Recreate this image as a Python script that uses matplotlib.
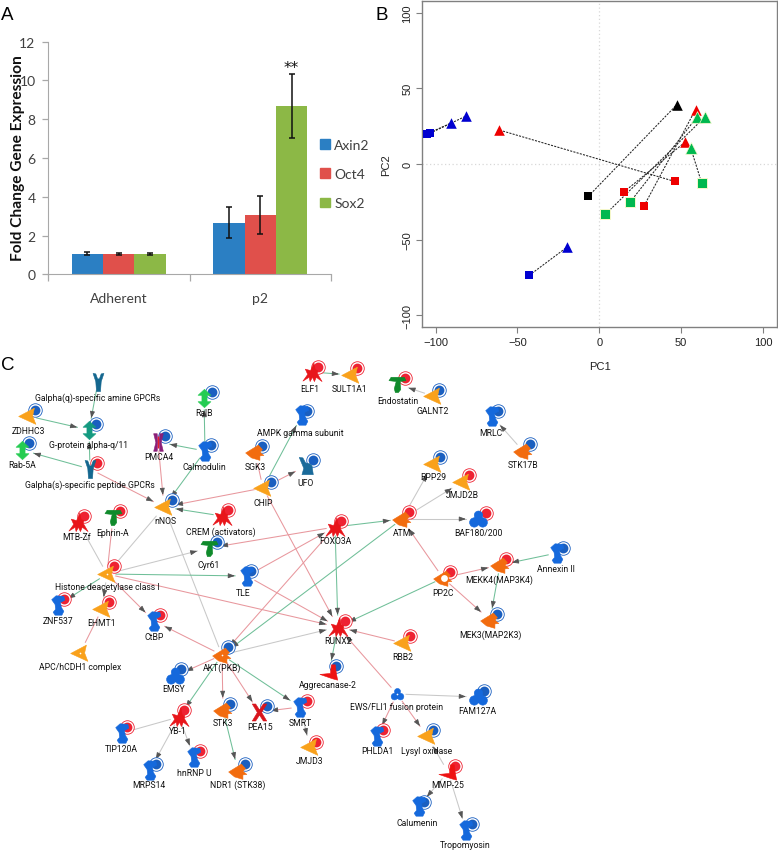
import numpy as np
import matplotlib
matplotlib.use("Agg")
import matplotlib.pyplot as plt
from matplotlib.path import Path
from matplotlib.patches import Patch

W, H = 778, 853

# panel A
groups = ["Adherent", "p2"]
genes = ["Axin2", "Oct4", "Sox2"]
axin2 = [1.07, 2.67]
oct4 = [1.03, 3.05]
sox2 = [1.03, 8.68]
axin2_err = [0.07, 0.80]
oct4_err = [0.06, 0.98]
sox2_err = [0.06, 1.64]

# panel B
tri_blue_x, tri_blue_y = [-90.4, -81.7, -19.5], [27.1, 31.5, -54.8]
tri_red_x, tri_red_y = [-61.3, 58.8, 52.5], [22.5, 35.9, 14.5]
tri_black_x, tri_black_y = [47.4], [39.2]
tri_green_x, tri_green_y = [59.9, 64.5, 55.8], [31.3, 31.0, 10.8]
sq_blue_x, sq_blue_y = [-105.5, -103.4, -42.8], [19.8, 20.3, -73.6]
sq_red_x, sq_red_y = [46.0, 15.0, 27.3], [-11.5, -18.5, -27.8]
sq_black_x, sq_black_y = [-6.7], [-21.4]
sq_green_x, sq_green_y = [62.5, 18.9, 3.7], [-12.3, -25.1, -33.3]
# square -> triangle
pair_x0 = [-105.5, -103.4, -42.8, 46.0, 15.0, 27.3, -6.7, 62.5, 18.9, 3.7]
pair_y0 = [19.8, 20.3, -73.6, -11.5, -18.5, -27.8, -21.4, -12.3, -25.1, -33.3]
pair_x1 = [-90.4, -81.7, -19.5, -61.3, 52.5, 58.8, 47.4, 55.8, 59.9, 64.5]
pair_y1 = [27.1, 31.5, -54.8, 22.5, 14.5, 35.9, 39.2, 10.8, 31.3, 31.0]

# panel C, all read in image pixels
node_name = ["Galpha(q)-specific amine GPCRs", "ZDHHC3", "G-protein alpha-q/11", "Rab-5A",
             "Galpha(s)-specific peptide GPCRs", "RalB", "PMCA4", "Calmodulin", "SGK3", "CHIP",
             "nNOS", "CREM (activators)", "MTB-Zf", "Ephrin-A", "Cyr61",
             "Histone deacetylase class I", "TLE", "AMPK gamma subunit", "UFO", "ELF1",
             "SULT1A1", "Endostatin", "GALNT2", "MRLC", "STK17B",
             "RPP29", "JMJD2B", "BAF180/200", "ATM", "FOXO3A",
             "Annexin II", "MEKK4(MAP3K4)", "PP2C", "MEK3(MAP2K3)", "RBB2",
             "RUNX2", "Aggrecanase-2", "EWS/FLI1 fusion protein", "FAM127A", "PHLDA1",
             "Lysyl oxidase", "MMP-25", "Calumenin", "Tropomyosin", "JMJD3",
             "SMRT", "PEA15", "STK3", "NDR1 (STK38)", "YB-1",
             "TIP120A", "MRPS14", "hnRNP U", "EMSY", "AKT(PKB)",
             "CtBP", "EHMT1", "ZNF537", "APC/hCDH1 complex"]
node_x = [98, 28, 89, 22, 90, 204, 158, 205, 255, 263,
          164, 222, 78, 113, 209, 107, 247, 302, 306, 312,
          351, 397, 433, 492, 523, 433, 462, 478, 402, 335,
          557, 500, 443, 490, 403, 338, 329, 397, 478, 377,
          427, 448, 419, 466, 310, 300, 259, 223, 238, 179,
          122, 150, 194, 175, 222, 154, 102, 58, 80]
node_y = [383, 417, 431, 451, 470, 399, 443, 452, 453, 489,
          508, 517, 523, 518, 549, 575, 577, 416, 467, 373,
          376, 385, 397, 417, 452, 465, 483, 520, 520, 528,
          554, 566, 579, 621, 644, 628, 673, 695, 698, 737,
          737, 773, 807, 831, 748, 708, 713, 711, 772, 718,
          734, 771, 758, 677, 656, 622, 610, 606, 654]
node_kind = ["receptor", "enzyme", "gprotein", "gtpase", "receptor", "gtpase", "channel", "binding", "kinase", "enzyme",
             "enzyme", "tf", "tf", "ligand", "ligand", "enzyme", "binding", "binding", "receptor2", "tf",
             "enzyme", "ligand", "enzyme", "binding", "kinase", "enzyme", "enzyme", "complex", "kinase", "tf",
             "binding", "kinase", "kinase", "kinase", "enzyme", "tf", "protease", "complex", "complex", "binding",
             "enzyme", "protease", "binding", "binding", "enzyme", "binding", "cross", "kinase", "kinase", "tf",
             "binding", "binding", "binding", "complex", "kinase", "binding", "enzyme", "binding", "enzyme"]
node_dot = ["", "b", "b", "b", "r", "b", "b", "b", "b", "b",
            "b", "r", "r", "r", "b", "r", "b", "b", "b", "r",
            "r", "r", "b", "b", "b", "b", "r", "r", "r", "r",
            "b", "r", "r", "b", "r", "r", "b", "", "b", "r",
            "b", "r", "b", "b", "r", "r", "b", "b", "b", "r",
            "r", "b", "r", "b", "b", "r", "r", "r", ""]
dot_x = [0, 35, 96, 29, 97, 212, 165, 211, 262, 271,
         172, 228, 84, 120, 217, 114, 251, 307, 313, 318,
         357, 405, 439, 498, 530, 440, 469, 486, 409, 341,
         563, 506, 450, 497, 410, 345, 336, 0, 484, 383,
         433, 455, 424, 472, 316, 307, 267, 230, 245, 184,
         127, 156, 200, 181, 228, 160, 109, 64, 0]
dot_y = [0, 411, 425, 444, 464, 393, 437, 446, 447, 483,
         501, 511, 517, 512, 543, 567, 572, 412, 461, 368,
         369, 379, 391, 412, 445, 458, 476, 514, 513, 522,
         549, 560, 573, 615, 637, 622, 667, 0, 692, 731,
         731, 767, 803, 825, 743, 702, 707, 705, 765, 711,
         728, 765, 752, 670, 648, 616, 603, 600, 0]
label_x = [98, 28, 89, 22, 90, 204, 159, 204, 255, 263,
           165, 221, 77, 113, 209, 107, 243, 300, 306, 310,
           350, 398, 433, 491, 523, 433, 462, 478, 402, 335,
           556, 499, 443, 490, 403, 338, 328, 397, 477, 377,
           427, 448, 417, 465, 310, 300, 260, 223, 238, 178,
           121, 149, 194, 174, 222, 154, 102, 58, 80]
label_y = [398, 431, 446, 465, 485, 414, 457, 467, 467, 504,
           521, 532, 538, 533, 565, 587, 594, 434, 484, 389,
           390, 401, 411, 433, 465, 478, 496, 533, 533, 542,
           570, 580, 593, 635, 657, 642, 686, 708, 712, 752,
           751, 786, 824, 846, 762, 724, 727, 724, 785, 732,
           750, 786, 774, 690, 668, 637, 623, 621, 668]

red_edges = [("Galpha(s)-specific peptide GPCRs", "nNOS"), ("PMCA4", "nNOS"), ("CHIP", "nNOS"),
             ("CHIP", "SGK3"), ("CHIP", "UFO"), ("CHIP", "RUNX2"),
             ("Histone deacetylase class I", "Ephrin-A"), ("Histone deacetylase class I", "RUNX2"),
             ("Histone deacetylase class I", "CtBP"), ("EHMT1", "APC/hCDH1 complex"),
             ("FOXO3A", "Cyr61"), ("TLE", "FOXO3A"), ("TLE", "RUNX2"), ("FOXO3A", "AKT(PKB)"),
             ("PP2C", "ATM"), ("PP2C", "MEKK4(MAP3K4)"), ("PP2C", "MEK3(MAP2K3)"),
             ("RBB2", "RUNX2"), ("EWS/FLI1 fusion protein", "RUNX2"), ("EWS/FLI1 fusion protein", "PHLDA1"),
             ("EWS/FLI1 fusion protein", "Lysyl oxidase"), ("SMRT", "PEA15"), ("AKT(PKB)", "PEA15"),
             ("AKT(PKB)", "STK3"), ("AKT(PKB)", "EMSY"), ("AKT(PKB)", "CtBP")]
green_edges = [("Galpha(q)-specific amine GPCRs", "G-protein alpha-q/11"), ("ZDHHC3", "G-protein alpha-q/11"),
               ("Galpha(s)-specific peptide GPCRs", "G-protein alpha-q/11"), ("Galpha(s)-specific peptide GPCRs", "Rab-5A"),
               ("Calmodulin", "RalB"), ("Calmodulin", "PMCA4"), ("Calmodulin", "nNOS"), ("CREM (activators)", "nNOS"),
               ("CHIP", "AMPK gamma subunit"), ("Histone deacetylase class I", "TLE"), ("Histone deacetylase class I", "ZNF537"),
               ("FOXO3A", "ATM"), ("FOXO3A", "RUNX2"), ("ATM", "AKT(PKB)"), ("PP2C", "RUNX2"),
               ("MEKK4(MAP3K4)", "MEK3(MAP2K3)"), ("Annexin II", "MEKK4(MAP3K4)"), ("ELF1", "SULT1A1"),
               ("RUNX2", "Aggrecanase-2"), ("AKT(PKB)", "SMRT"), ("STK3", "NDR1 (STK38)"), ("AKT(PKB)", "YB-1")]
gray_edges = [("AKT(PKB)", "nNOS"), ("Histone deacetylase class I", "nNOS"), ("Histone deacetylase class I", "MTB-Zf"),
              ("Histone deacetylase class I", "Cyr61"), ("Histone deacetylase class I", "EHMT1"),
              ("ATM", "RPP29"), ("ATM", "JMJD2B"), ("ATM", "BAF180/200"), ("STK17B", "MRLC"),
              ("GALNT2", "Endostatin"), ("AKT(PKB)", "RUNX2"), ("EWS/FLI1 fusion protein", "FAM127A"),
              ("MMP-25", "Lysyl oxidase"), ("MMP-25", "Calumenin"), ("MMP-25", "Tropomyosin"),
              ("SMRT", "JMJD3"), ("YB-1", "TIP120A"), ("YB-1", "MRPS14"), ("YB-1", "hnRNP U")]
no_head = [("YB-1", "TIP120A"), ("Histone deacetylase class I", "Ephrin-A"), ("Histone deacetylase class I", "MTB-Zf"),
           ("EHMT1", "APC/hCDH1 complex"), ("CHIP", "SGK3"), ("Histone deacetylase class I", "nNOS"), ("AKT(PKB)", "nNOS")]
small_nodes = ["EWS/FLI1 fusion protein"]
white_spot_nodes = ["EWS/FLI1 fusion protein", "APC/hCDH1 complex", "Histone deacetylase class I", "AKT(PKB)"]


def circle_at(cx, cy, r):
    p = Path.unit_circle()
    return Path(p.vertices * r + [cx, cy], p.codes)


shapes = {
    "enzyme": Path([(-1, 0), (0.6, 0.85), (0.42, 0.05), (0.75, -0.8), (-1, 0)], closed=True),
    "kinase": Path([(-1, -0.05), (0.3, 0.75), (0.7, 0.3), (0.45, 0.02), (0.85, -0.3), (0.45, -0.35),
                    (0.45, -0.8), (-0.4, -0.55), (-1, -0.05)], closed=True),
    "protease": Path([(-1, -0.2), (0.1, -0.1), (0.2, 0.8), (0.6, 0.8), (0.7, 0.0), (0.85, -0.8),
                      (0.3, -0.65), (-1, -0.2)], closed=True),
    "binding": Path([(-0.25, 1), (0.55, 0.95), (0.65, 0.55), (0.2, 0.3), (0.3, -0.2), (0.55, -0.6),
                     (0.35, -1), (-0.35, -1), (-0.55, -0.7), (-0.3, -0.4), (-0.35, 0.1), (-0.7, 0.6),
                     (-0.25, 1)], closed=True),
    "tf": Path([(0.15, 1), (0.28, 0.3), (0.55, 0.2), (0.5, -0.1), (1, -0.95), (0.4, -0.5), (0.2, -0.95),
                (0, -0.5), (-0.25, -0.95), (-0.35, -0.5), (-1, -0.9), (-0.5, -0.2), (-0.75, 0.35),
                (-0.2, 0.2), (0.15, 1)], closed=True),
    "ligand": Path([(-1, 0.45), (-0.75, 0.85), (0.8, 0.85), (1, 0.45), (0.3, 0.35), (0.38, -0.6),
                    (0.1, -0.95), (-0.25, -0.95), (-0.38, -0.5), (-0.15, 0.35), (-1, 0.45)], closed=True),
    "receptor": Path([(-0.6, 1), (-0.3, 0.95), (-0.1, 0.4), (0.1, 0.4), (0.3, 0.95), (0.6, 1), (0.3, 0.1),
                      (0.22, -1), (-0.22, -1), (-0.3, 0.1), (-0.6, 1)], closed=True),
    "receptor2": Path([(-0.8, 1), (-0.4, 0.95), (-0.1, 0.4), (0.35, 0.3), (0.6, 0.1), (0.75, -0.9),
                       (-0.5, -0.9), (-0.3, -0.2), (-0.8, 1)], closed=True),
    "gtpase": Path([(0, 1), (0.7, 0.35), (0.28, 0.35), (0.28, -0.35), (0.7, -0.35), (0, -1), (-0.7, -0.35),
                    (-0.28, -0.35), (-0.28, 0.35), (-0.7, 0.35), (0, 1)], closed=True),
    "channel": Path([(-0.55, 1), (-0.15, 1), (-0.08, 0), (-0.15, -1), (-0.55, -1), (-0.3, 0), (-0.55, 1)],
                    closed=True),
    "cross": Path([(-0.85, 1), (-0.45, 1), (0, 0.3), (0.45, 1), (0.85, 1), (0.25, 0), (0.85, -1), (0.45, -1),
                   (0, -0.3), (-0.45, -1), (-0.85, -1), (-0.25, 0), (-0.85, 1)], closed=True),
    "complex": Path.make_compound_path(circle_at(0, 0.5, 0.5), circle_at(-0.5, -0.35, 0.55),
                                       circle_at(0.5, -0.35, 0.55)),
}
shapes["gprotein"] = shapes["gtpase"]
channel_right = Path([(0.55, 1), (0.15, 1), (0.08, 0), (0.15, -1), (0.55, -1), (0.3, 0), (0.55, 1)], closed=True)
shapes["channel"] = Path.make_compound_path(shapes["channel"], channel_right)

kind_color = {"enzyme": "#f9a11b", "kinase": "#f26c0f", "protease": "#ee1212", "binding": "#1569dc",
              "tf": "#e8151a", "ligand": "#0f8a2b", "receptor": "#14678f", "receptor2": "#1a6a9a",
              "gtpase": "#25cc52", "gprotein": "#149a80", "channel": "#8a1f78", "cross": "#d8141c",
              "complex": "#1569dc"}
kind_size = {"enzyme": 200, "kinase": 200, "protease": 190, "binding": 195, "tf": 190, "ligand": 150,
             "receptor": 170, "receptor2": 170, "gtpase": 175, "gprotein": 175, "channel": 160,
             "cross": 150, "complex": 165}
edge_color = {"red": "#e8979d", "green": "#6fbf98", "gray": "#c8c8c8"}

fig = plt.figure(figsize=(W / 100, H / 100), dpi=100, facecolor="white")


def px_axes(left, top, right, bottom):
    return fig.add_axes([left / W, 1 - bottom / H, (right - left) / W, (bottom - top) / H])


# A ---------------------------------------------------------------
ax = px_axes(48, 42.7, 331, 275.3)
bar_w = 0.2215
centers = np.array([0.5, 1.5])
bar_colors = ["#2b7fc3", "#e0504b", "#8cb846"]
for i, (vals, errs) in enumerate([(axin2, axin2_err), (oct4, oct4_err), (sox2, sox2_err)]):
    pos = centers + (i - 1) * bar_w
    ax.bar(pos, vals, bar_w, color=bar_colors[i], linewidth=0, zorder=2)
    ax.errorbar(pos, vals, yerr=errs, fmt="none", ecolor="#111111", elinewidth=1.1, capsize=2.5,
                capthick=1.1, zorder=3)
ax.text(centers[1] + bar_w, 10.3, "**", ha="center", va="bottom", fontsize=11, family="DejaVu Sans", color="#111111")
ax.set_xlim(0, 2)
ax.set_ylim(0, 12)
ax.set_yticks(range(0, 13, 2))
ax.set_xticks([0, 1, 2])
ax.set_xticklabels([])
ax.set_xticks(centers, groups, minor=True)
ax.tick_params(axis="x", which="minor", length=0, pad=13, labelsize=10, labelcolor="#404040", labelfontfamily="Lato")
ax.tick_params(axis="x", which="major", length=5, color="#a8a8a8", width=0.9)
ax.tick_params(axis="y", length=4, color="#a8a8a8", width=0.9, pad=5, labelsize=10, labelcolor="#404040",
               labelfontfamily="Lato")
for side in ["top", "right"]:
    ax.spines[side].set_visible(False)
for side in ["left", "bottom"]:
    ax.spines[side].set_color("#a8a8a8")
fig.text(18 / W, 1 - 158 / H, "Fold Change Gene Expression", rotation=90, ha="center", va="center",
         fontsize=11.2, fontweight="bold", family="Lato", color="#111111")
handles = [Patch(color=c, label=g) for c, g in zip(bar_colors, genes)]
fig.legend(handles=handles, loc="center left", bbox_to_anchor=(320 / W, 1 - 175 / H), frameon=False,
           handlelength=0.72, handleheight=0.72, handletextpad=0.3, labelspacing=1.25, borderpad=0,
           borderaxespad=0, prop={"family": "Lato", "size": 10}, labelcolor="#404040")

# B ---------------------------------------------------------------
bx = px_axes(422.3, 1.5, 776.7, 328)
bx.axhline(0, color="#d8d8d8", lw=0.9, ls=(0, (1, 2)), zorder=1)
bx.axvline(0, color="#d8d8d8", lw=0.9, ls=(0, (1, 2)), zorder=1)
for x0, y0, x1, y1 in zip(pair_x0, pair_y0, pair_x1, pair_y1):
    bx.plot([x0, x1], [y0, y1], color="#222222", lw=0.75, ls=(0, (2, 1.2)), zorder=2)
bx.scatter(sq_blue_x, sq_blue_y, marker="s", s=38, c="#0000d0", linewidths=0, zorder=3)
bx.scatter(sq_red_x, sq_red_y, marker="s", s=38, c="#ee0000", linewidths=0, zorder=3)
bx.scatter(sq_black_x, sq_black_y, marker="s", s=38, c="black", linewidths=0, zorder=3)
bx.scatter(sq_green_x, sq_green_y, marker="s", s=44, c="#00b84f", edgecolors="#f8f8cc", linewidths=0.7, zorder=3)
bx.scatter(tri_blue_x, tri_blue_y, marker="^", s=58, c="#0000d0", linewidths=0, zorder=3)
bx.scatter(tri_red_x, tri_red_y, marker="^", s=58, c="#ee0000", linewidths=0, zorder=4)
bx.scatter(tri_black_x, tri_black_y, marker="^", s=58, c="black", linewidths=0, zorder=3)
bx.scatter(tri_green_x, tri_green_y, marker="^", s=70, c="#00b84f", edgecolors="#f8f8cc", linewidths=0.5, zorder=4)
bx.set_xlim(-108.1, 108.4)
bx.set_ylim(-107.7, 108)
bx.set_xticks([-100, -50, 0, 50, 100])
bx.set_yticks([-100, -50, 0, 50, 100])
bx.tick_params(length=4, width=0.8, color="#808080", labelsize=8, labelcolor="#222222", pad=3,
               labelfontfamily="Liberation Sans")
plt.setp(bx.get_yticklabels(), rotation=90, va="center")
for s in bx.spines.values():
    s.set_color("#808080")
    s.set_linewidth(1)
bx.set_xlabel("PC1", fontsize=8, family="Liberation Sans", labelpad=10, color="#222222")
bx.set_ylabel("PC2", fontsize=8, family="Liberation Sans", labelpad=8, color="#222222")

# C ---------------------------------------------------------------
net = fig.add_axes([0, 0, 1, 1], zorder=-1)
net.set_xlim(0, W)
net.set_ylim(H, 0)
net.axis("off")
pos = {n: np.array([x, y], dtype=float) for n, x, y in zip(node_name, node_x, node_y)}

for col, edges in [("gray", gray_edges), ("red", red_edges), ("green", green_edges)]:
    for a, b in edges:
        d = pos[b] - pos[a]
        u = d / np.linalg.norm(d)
        start = pos[a] + u * 9
        end = pos[b] - u * 12
        net.plot([start[0], end[0]], [start[1], end[1]], color=edge_color[col], lw=0.75, zorder=1)
        if (a, b) not in no_head:
            net.annotate("", xy=end, xytext=end - u * 6, zorder=2,
                         arrowprops=dict(arrowstyle="-|>,head_length=0.5,head_width=0.18", color="#555555",
                                         lw=0.6, shrinkA=0, shrinkB=0, mutation_scale=8))

dot_color = {"r": "#ee2232", "b": "#1a5fc0"}
for name, x, y, kind, dot, dx, dy, lx, ly in zip(node_name, node_x, node_y, node_kind, node_dot, dot_x, dot_y,
                                                 label_x, label_y):
    if dot:
        net.scatter(dx, dy, s=95, facecolor="white", edgecolor=dot_color[dot], linewidths=0.6, zorder=3)
        net.scatter(dx, dy, s=50, color=dot_color[dot], linewidths=0, zorder=4)
    size = kind_size[kind] * (0.5 if name in small_nodes else 1)
    net.scatter(x, y, marker=shapes[kind], s=size, color=kind_color[kind], linewidths=0.4, zorder=5)
    if kind == "channel":
        net.scatter(x, y, marker="|", s=70, color="#e8202a", linewidths=1, zorder=6)
    if name == "PP2C":
        net.scatter(x + 1, y, s=24, color="white", linewidths=0, zorder=6)
    if name in white_spot_nodes:
        net.scatter(x, y, s=1.5, color="white", linewidths=0, zorder=6)
    net.text(lx, ly, name, ha="center", va="center", fontsize=6.2, family="Roboto", color="#111111", zorder=7)

# panel letters
for letter, x, y in [("A", 7, 15), ("B", 382, 15), ("C", 8, 366)]:
    fig.text(x / W, 1 - y / H, letter, ha="center", va="center", fontsize=13.5, family="Liberation Sans", color="black")

fig.savefig("out.png", dpi=100)
